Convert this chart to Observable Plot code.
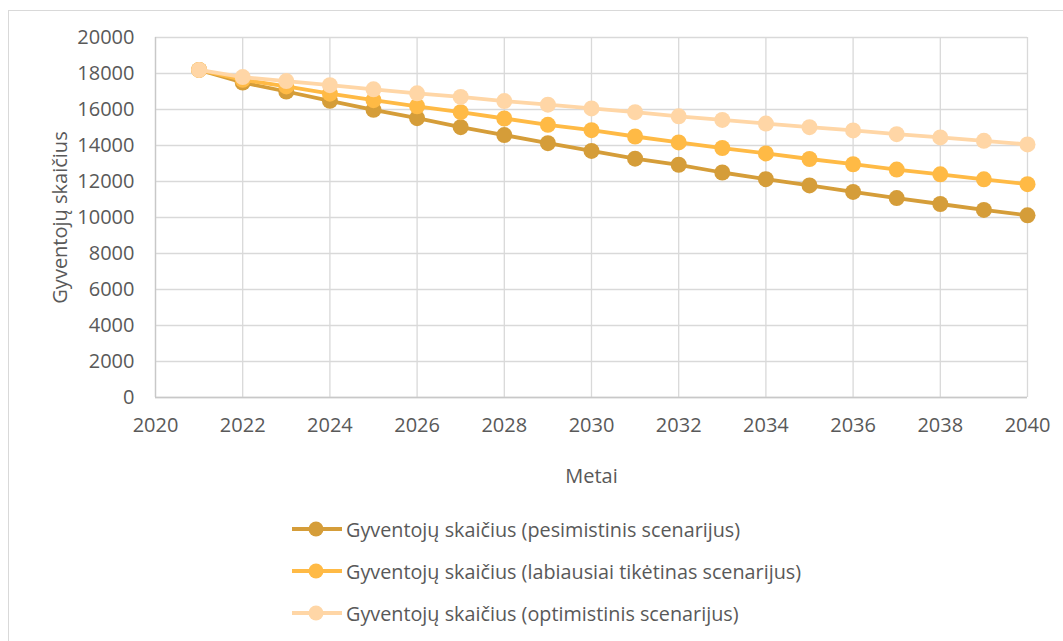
<!DOCTYPE html>
<html>
<head>
<meta charset="utf-8">
<script src="https://cdn.jsdelivr.net/npm/d3@7"></script>
<script src="https://cdn.jsdelivr.net/npm/@observablehq/plot@0.6"></script>
<style>
  html, body { margin: 0; padding: 0; background: #fff; overflow: hidden; }
  body { width: 1063px; height: 641px; position: relative; font-family: "Open Sans", sans-serif; }
  #frame { position: absolute; left: 8px; top: 10px; width: 1080px; height: 660px; border: 1px solid #d9d9d9; box-sizing: border-box; }
  #chart { position: absolute; left: 0; top: 0; }
  #legend { position: absolute; left: 292px; top: 508px; }
  .item { display: flex; align-items: center; height: 42px; color: #595959; font-size: 19.8px; }
  .item svg { margin-right: 4px; }
</style>
</head>
<body>
<div id="frame"></div>
<div id="chart"></div>
<div id="legend"></div>
<script>
const years = [2021,2022,2023,2024,2025,2026,2027,2028,2029,2030,2031,2032,2033,2034,2035,2036,2037,2038,2039,2040];
const pessimistic = [18200,17500,17000,16480,15980,15520,15020,14580,14130,13700,13270,12930,12500,12130,11780,11420,11080,10750,10420,10120];
const likely      = [18200,17650,17280,16880,16520,16180,15850,15500,15150,14850,14500,14170,13860,13560,13250,12960,12660,12400,12120,11850];
const optimistic  = [18200,17800,17580,17350,17120,16900,16700,16470,16270,16060,15850,15620,15420,15220,15020,14840,14630,14450,14260,14060];
const seriesNames = [
  "Gyventojų skaičius (pesimistinis scenarijus)",
  "Gyventojų skaičius (labiausiai tikėtinas scenarijus)",
  "Gyventojų skaičius (optimistinis scenarijus)"
];
const seriesColors = ["#D59D39", "#FFBA45", "#FFD6A6"];
const xTicks = [2020,2022,2024,2026,2028,2030,2032,2034,2036,2038,2040];
const yTicks = [0,2000,4000,6000,8000,10000,12000,14000,16000,18000,20000];

const allSeries = [pessimistic, likely, optimistic];
const data = [];
allSeries.forEach((vals, si) => {
  vals.forEach((v, i) => data.push({year: years[i], value: v, series: seriesNames[si]}));
});

const marks = [
  Plot.gridY(yTicks, {stroke: "#d9d9d9", strokeOpacity: 1, strokeWidth: 1.3}),
  Plot.gridX(xTicks, {stroke: "#d9d9d9", strokeOpacity: 1, strokeWidth: 1.3}),
  Plot.ruleY([0], {stroke: "#c8c8c8", strokeWidth: 1.3}),
  Plot.ruleX([2020], {stroke: "#c8c8c8", strokeWidth: 1.3}),
  Plot.axisX(xTicks, {tickSize: 0, tickPadding: 20, tickFormat: d => String(d), fontSize: 20, fill: "#595959", label: null}),
  Plot.axisY(yTicks, {tickSize: 0, tickPadding: 21, tickFormat: d => String(d), fontSize: 20, fill: "#595959", label: null}),
];
seriesNames.forEach((name, si) => {
  const d = data.filter(r => r.series === name);
  marks.push(Plot.line(d, {x: "year", y: "value", stroke: seriesColors[si], strokeWidth: 3.8}));
  marks.push(Plot.dot(d, {x: "year", y: "value", fill: seriesColors[si], r: 8, stroke: "none"}));
});
marks.push(Plot.text(["Metai"], {frameAnchor: "bottom", dy: 85, fontSize: 20, fill: "#595959", text: d => d}));
marks.push(Plot.text(["Gyventojų skaičius"], {frameAnchor: "left", textAnchor: "middle", dx: -95, rotate: -90, fontSize: 20, fill: "#595959", text: d => d}));

const chart = Plot.plot({
  width: 1063,
  height: 500,
  marginLeft: 155,
  marginRight: 36,
  marginTop: 37,
  marginBottom: 103,
  style: {fontFamily: "Open Sans", background: "transparent", overflow: "visible"},
  x: {domain: [2020, 2040]},
  y: {domain: [0, 20000]},
  marks
});
document.getElementById("chart").appendChild(chart);

const legend = document.getElementById("legend");
seriesNames.forEach((name, si) => {
  const item = document.createElement("div");
  item.className = "item";
  item.innerHTML = `<svg width="50" height="20"><line x1="0" y1="10" x2="50" y2="10" stroke="${seriesColors[si]}" stroke-width="3.8"/><circle cx="24" cy="10" r="7.5" fill="${seriesColors[si]}"/></svg><span>${name}</span>`;
  legend.appendChild(item);
});
</script>
</body>
</html>
